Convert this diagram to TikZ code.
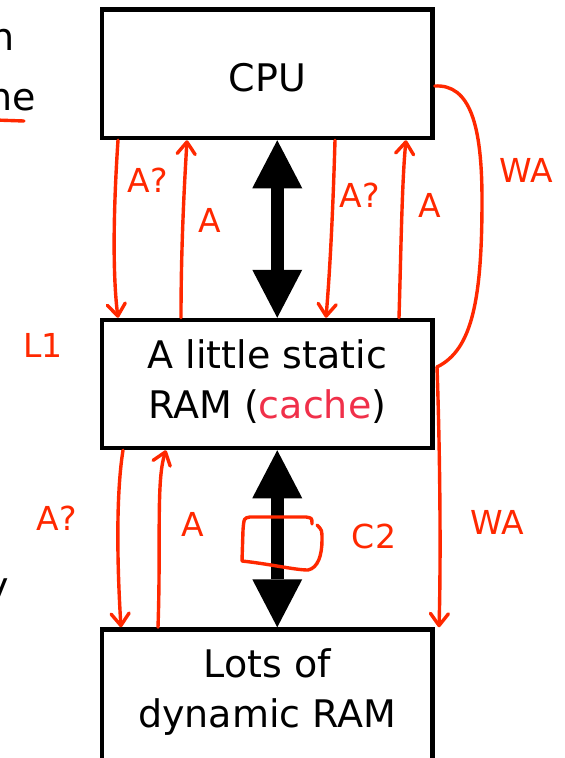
\documentclass[tikz,border=0pt]{standalone}
\usepackage{fontspec}
\setmainfont{DejaVu Sans}
\usetikzlibrary{arrows.meta,calc}
\definecolor{penred}{RGB}{255,40,0}
\definecolor{cachecol}{RGB}{240,48,74}
\tikzset{
  box/.style={draw=black, line width=4.5pt, minimum width=330.5pt, inner sep=0pt},
  boxtext/.style={font=\fontsize{38}{50}\selectfont, align=center, anchor=base, inner sep=0pt},
  fragtext/.style={font=\fontsize{38}{50}\selectfont, inner sep=0pt},
  bigarrow/.style={line width=13pt,
    {Triangle[length=48pt,width=50pt,line width=0pt]}-{Triangle[length=48pt,width=50pt,line width=0pt]}},
  redink/.style={draw=penred, line width=3.4pt, line cap=round, line join=round},
  redarrow/.style={redink, -{Straight Barb[length=12pt,width=18pt,round]}},
  note/.style={text=penred, font=\fontsize{33}{33}\selectfont, inner sep=0pt}
}
\begin{document}
\begin{tikzpicture}[x=1pt,y=-1pt]
\useasboundingbox (0,0) rectangle (565,758);

% boxes
\node[box, minimum height=128.5pt] (cpu) at (267.25,73.75) {};
\node[box, minimum height=128pt] (cache) at (267.25,384) {};
\node[box, minimum height=200pt, anchor=north] (dram) at (267.25,627.25) {};

% box texts (base anchor = baseline of the last line)
\node[boxtext] (cputext) at (267.25,91) {CPU};
\node[boxtext] (cachetext) at (267.25,418) {A little static\\RAM (\textcolor{cachecol}{cache})};
\node[boxtext] (dramtext) at (267.25,727) {Lots of\\dynamic RAM};

% cropped slide text at the left edge
\node[fragtext, anchor=base west] (frag1) at (-10,50) {n};
\node[fragtext, anchor=base west] (frag2) at (-12,110) {he};
\node[fragtext, anchor=base west] (frag3) at (-14,599) {y};
\draw[redink] (-5,120) -- (24,121);

% thick black double arrows
\draw[bigarrow] ([xshift=10pt]cpu.south) -- ([xshift=10pt]cache.north);
\draw[bigarrow] ([xshift=10pt]cache.south) -- ([xshift=10pt]dram.north);

% red annotations CPU <-> cache
\draw[redarrow] (118,0 |- cpu.south) .. controls (114,200) and (112,270) .. (118,0 |- cache.north);
\draw[redarrow] (181,0 |- cache.north) .. controls (181,250) and (184,190) .. (187,0 |- cpu.south);
\draw[redarrow] (335,0 |- cpu.south) .. controls (333,210) and (330,270) .. (326,0 |- cache.north);
\draw[redarrow] (399,0 |- cache.north) .. controls (401,250) and (402,180) .. (406,0 |- cpu.south);

% write-around path
\coordinate (wa1) at (437,367);
\draw[redink] (cpu.east |- 0,86) .. controls (470,84) and (482,125) .. (482,200)
  .. controls (482,300) and (472,350) .. (wa1);
\draw[redarrow] (wa1) .. controls (440,450) and (441,560) .. (439,0 |- dram.north);

% red annotations cache <-> DRAM
\draw[redarrow] (123,0 |- cache.south) .. controls (115,500) and (118,580) .. (121,0 |- dram.north);
\draw[redarrow] (158,0 |- dram.north) .. controls (161,540) and (156,480) .. (166,0 |- cache.south);

% hand-drawn box round the lower shaft
\draw[redink] (312,524) .. controls (312,518) .. (306,517) -- (250,517)
  .. controls (244,518) .. (243,530) -- (242,561)
  .. controls (270,564) and (295,570) .. (308,570)
  .. controls (318,568) and (322,555) .. (322,540)
  .. controls (322,530) .. (317,525);

% red labels
\node[note] (n1) at (148,180) {A?};
\node[note] (n2) at (210,220) {A};
\node[note] (n3) at (360,195) {A?};
\node[note] (n4) at (430,205) {A};
\node[note] (n5) at (526,170) {WA};
\node[note] (n6) at (43,345) {L1};
\node[note] (n7) at (57,518) {A?};
\node[note] (n8) at (193,524) {A};
\node[note] (n9) at (374,536) {C2};
\node[note] (n10) at (497,522) {WA};
\end{tikzpicture}
\end{document}
